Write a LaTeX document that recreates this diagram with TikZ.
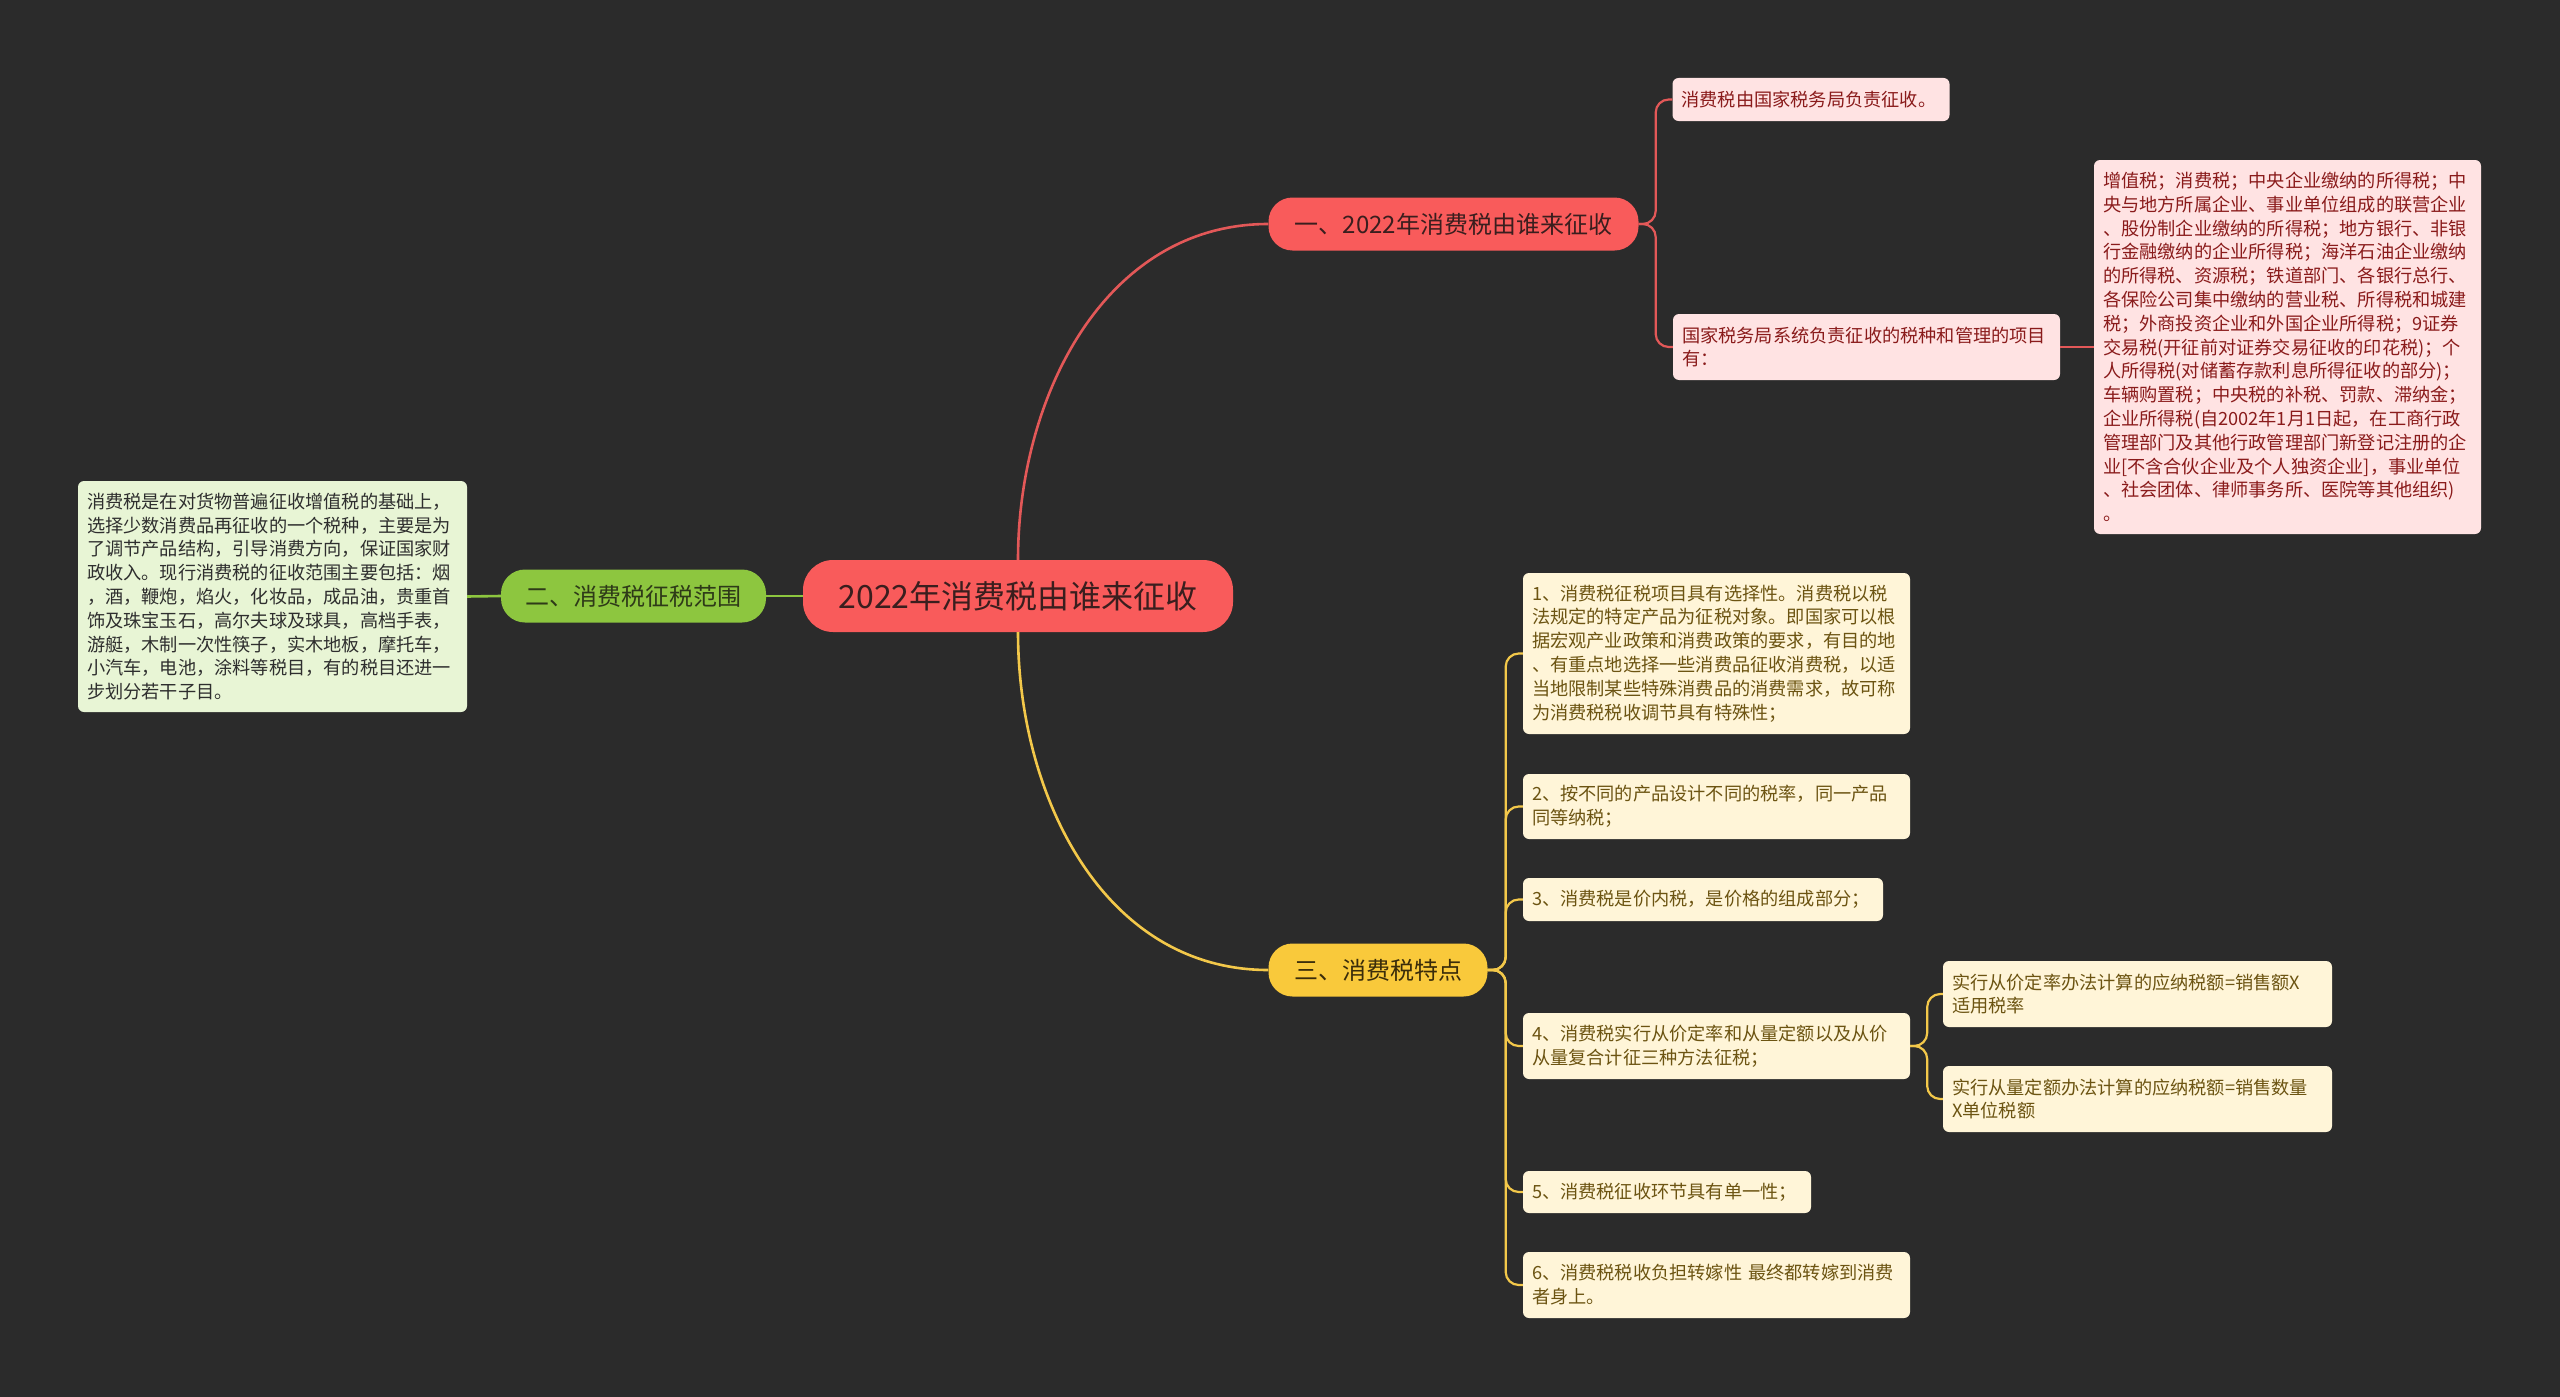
\documentclass[tikz,border=0pt]{standalone}
\usepackage{fontspec}
\setmainfont{Noto Sans CJK SC}
\definecolor{bg}{HTML}{2B2B2B}
\definecolor{cred}{HTML}{F95B5B}
\definecolor{credline}{HTML}{E35858}
\definecolor{ctdark}{HTML}{3A1E1E}
\definecolor{cpink}{HTML}{FFE3E3}
\definecolor{cpinktext}{HTML}{8A1B1B}
\definecolor{cgreen}{HTML}{8DC63F}
\definecolor{cgreentext}{HTML}{2E3A18}
\definecolor{cgreenleaf}{HTML}{E8F5D5}
\definecolor{cgreenleaftext}{HTML}{2E2E2E}
\definecolor{cyellow}{HTML}{F9C93B}
\definecolor{cyellowline}{HTML}{F3C84A}
\definecolor{cytext}{HTML}{3A2C0A}
\definecolor{ccream}{HTML}{FFF5D8}
\definecolor{ccreamtext}{HTML}{6C5412}
\begin{document}
\begin{tikzpicture}[x=1pt,y=-1pt,
  every node/.style={inner sep=0pt},
  mainnode/.style={fill=cred, text=ctdark, rounded corners=30pt, minimum height=72pt, minimum width=430pt, font=\fontsize{32}{38}\selectfont},
  branch/.style={rounded corners=24pt, minimum height=53pt, font=\fontsize{24}{28}\selectfont},
  leaf/.style={rounded corners=6pt, inner xsep=9pt, inner ysep=0pt, align=left, font=\fontsize{18.2}{23.8}\selectfont},
  pinkleaf/.style={leaf, fill=cpink, text=cpinktext},
  greenleaf/.style={leaf, fill=cgreenleaf, text=cgreenleaftext},
  yleaf/.style={leaf, fill=ccream, text=ccreamtext},
  redline/.style={draw=credline, line width=2.6pt},
  greenline/.style={draw=cgreen, line width=2.6pt},
  yline/.style={draw=cyellowline, line width=2.6pt},
  elbow/.style={rounded corners=13pt, line width=2.2pt}
]
\fill[bg] (0,0) rectangle (2560,1397);
\useasboundingbox (0,0) rectangle (2560,1397);

% main and branch nodes
\node[mainnode] (c) at (1018,596) {2022年消费税由谁来征收};
\node[branch, fill=cred, text=ctdark, minimum width=370pt] (b1) at (1453.5,224) {一、2022年消费税由谁来征收};
\node[branch, fill=cgreen, text=cgreentext, minimum width=265pt] (b2) at (633.5,596) {二、消费税征税范围};
\node[branch, fill=cyellow, text=cytext, minimum width=219pt] (b3) at (1378,970) {三、消费税特点};

% branch 1 leaves
\node[pinkleaf, text width=259pt, minimum height=43pt] (l1a) at (1811,99.5) {消费税由国家税务局负责征收。};
\node[pinkleaf, text width=369pt, minimum height=66pt] (l1b) at (1866.5,347) {国家税务局系统负责征收的税种和管理的项目\\有：};
\node[pinkleaf, text width=369pt, minimum height=374pt] (l1c) at (2287.5,347) {增值税；消费税；中央企业缴纳的所得税；中\\央与地方所属企业、事业单位组成的联营企业\\、股份制企业缴纳的所得税；地方银行、非银\\行金融缴纳的企业所得税；海洋石油企业缴纳\\的所得税、资源税；铁道部门、各银行总行、\\各保险公司集中缴纳的营业税、所得税和城建\\税；外商投资企业和外国企业所得税；9证券\\交易税(开征前对证券交易征收的印花税)；个\\人所得税(对储蓄存款利息所得征收的部分)；\\车辆购置税；中央税的补税、罚款、滞纳金；\\企业所得税(自2002年1月1日起，在工商行政\\管理部门及其他行政管理部门新登记注册的企\\业[不含合伙企业及个人独资企业]，事业单位\\、社会团体、律师事务所、医院等其他组织)\\。};

% branch 2 leaf
\node[greenleaf, text width=371pt, minimum height=231pt] (l2) at (272.5,596.5) {消费税是在对货物普遍征收增值税的基础上，\\选择少数消费品再征收的一个税种，主要是为\\了调节产品结构，引导消费方向，保证国家财\\政收入。现行消费税的征收范围主要包括：烟\\，酒，鞭炮，焰火，化妆品，成品油，贵重首\\饰及珠宝玉石，高尔夫球及球具，高档手表，\\游艇，木制一次性筷子，实木地板，摩托车，\\小汽车，电池，涂料等税目，有的税目还进一\\步划分若干子目。};

% branch 3 leaves
\node[yleaf, text width=369pt, minimum height=161pt] (l31) at (1716.5,653.5) {1、消费税征税项目具有选择性。消费税以税\\法规定的特定产品为征税对象。即国家可以根\\据宏观产业政策和消费政策的要求，有目的地\\、有重点地选择一些消费品征收消费税，以适\\当地限制某些特殊消费品的消费需求，故可称\\为消费税税收调节具有特殊性；};
\node[yleaf, text width=369pt, minimum height=65pt] (l32) at (1716.5,806.5) {2、按不同的产品设计不同的税率，同一产品\\同等纳税；};
\node[yleaf, text width=342pt, minimum height=43pt] (l33) at (1703,899.5) {3、消费税是价内税，是价格的组成部分；};
\node[yleaf, text width=369pt, minimum height=66pt] (l34) at (1716.5,1046) {4、消费税实行从价定率和从量定额以及从价\\从量复合计征三种方法征税；};
\node[yleaf, text width=270pt, minimum height=42pt] (l35) at (1667,1192) {5、消费税征收环节具有单一性；};
\node[yleaf, text width=369pt, minimum height=66pt] (l36) at (1716.5,1285) {6、消费税税收负担转嫁性 最终都转嫁到消费\\者身上。};
\node[yleaf, text width=371pt, minimum height=66pt] (l4a) at (2137.5,994) {实行从价定率办法计算的应纳税额=销售额X\\适用税率};
\node[yleaf, text width=371pt, minimum height=66pt] (l4b) at (2137.5,1099) {实行从量定额办法计算的应纳税额=销售数量\\X单位税额};

% connectors
\draw[redline] (c.north) to[out=90,in=180] (b1.west);
\draw[yline] (c.south) to[out=-90,in=180] (b3.west);
\draw[greenline] (c.west) -- (b2.east);
\draw[greenline] (b2.west) -- (l2.east);

\draw[redline, elbow] (b1.east) -- ++(17,0) |- (l1a.west);
\draw[redline, elbow] (b1.east) -- ++(17,0) |- (l1b.west);
\draw[redline, line width=2.2pt] (l1b.east) -- (l1c.west);

\foreach \n in {l31,l32,l33,l34,l35,l36}
  \draw[yline, elbow] (b3.east) -- ++(18,0) |- (\n.west);
\draw[yline, elbow] (l34.east) -- ++(17,0) |- (l4a.west);
\draw[yline, elbow] (l34.east) -- ++(17,0) |- (l4b.west);
\end{tikzpicture}
\end{document}
